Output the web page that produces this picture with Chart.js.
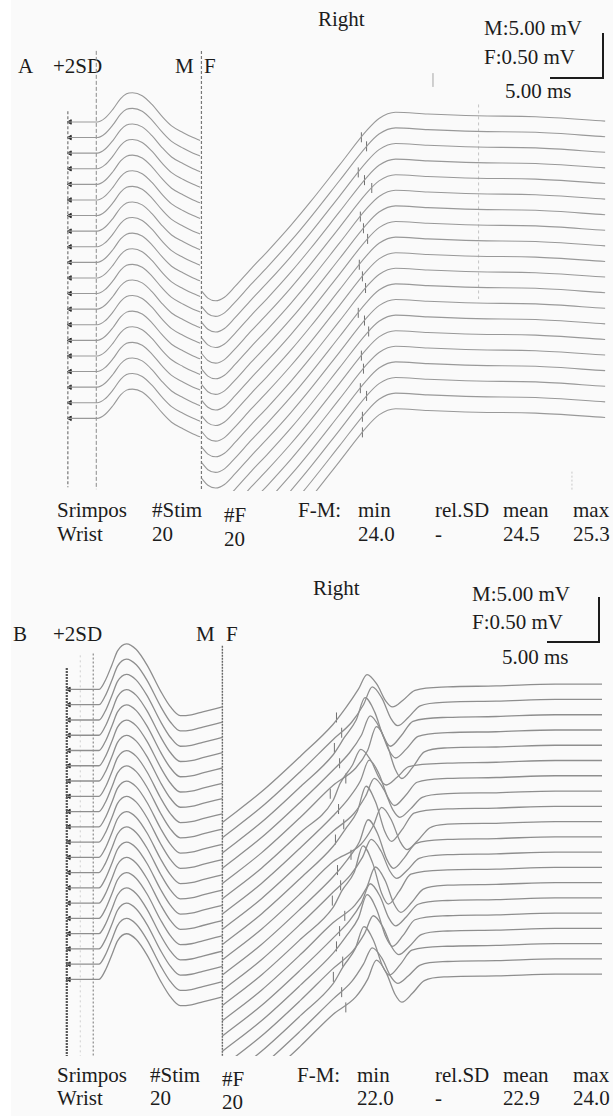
<!DOCTYPE html>
<html>
<head>
<meta charset="utf-8">
<script src="https://cdn.jsdelivr.net/npm/chart.js@4.4.1/dist/chart.umd.min.js"></script>
<style>
  html, body { margin: 0; padding: 0; background: #fafafa; }
  body { width: 613px; height: 1116px; position: relative; overflow: hidden; }
  .faixa { position: absolute; left: 0; top: 0; width: 11px; height: 1116px; background: #fff; }
  .t { position: absolute; font-family: "Liberation Serif", serif; font-size: 21px; line-height: 21px; color: #1c1c1c; white-space: nowrap; }
  .barra { position: absolute; background: #1c1c1c; }
  .painel { position: absolute; }
</style>
</head>
<body>
<div class="faixa"></div>

<!-- painel A -->
<div class="t" style="left:318px;top:9.4px">Right</div>
<div class="t" style="left:18px;top:56.4px">A</div>
<div class="t" style="left:53px;top:56.4px">+2SD</div>
<div class="t" style="left:175px;top:56.4px">M</div>
<div class="t" style="left:204px;top:56.4px">F</div>
<div class="t" style="left:484px;top:18.4px">M:5.00 mV</div>
<div class="t" style="left:484px;top:47.4px">F:0.50 mV</div>
<div class="t" style="left:505px;top:81.4px">5.00 ms</div>
<div class="barra" style="left:602px;top:33px;width:1.5px;height:45px"></div>
<div class="barra" style="left:550px;top:77px;width:54px;height:1.5px"></div>
<div class="painel" style="left:55px;top:40px;width:558px;height:457px"><canvas id="graficoA"></canvas></div>
<div class="t" style="left:57px;top:500.4px">Srimpos</div>
<div class="t" style="left:57px;top:524.4px">Wrist</div>
<div class="t" style="left:152px;top:500.4px">#Stim</div>
<div class="t" style="left:152px;top:524.4px" id="stimA"></div>
<div class="t" style="left:224px;top:505.4px">#F</div>
<div class="t" style="left:224px;top:529.4px" id="nfA"></div>
<div class="t" style="left:298px;top:500.4px">F-M:</div>
<div class="t" style="left:358px;top:500.4px">min</div>
<div class="t" style="left:358px;top:524.4px" id="minA"></div>
<div class="t" style="left:435px;top:500.4px">rel.SD</div>
<div class="t" style="left:435px;top:524.4px">-</div>
<div class="t" style="left:503px;top:500.4px">mean</div>
<div class="t" style="left:503px;top:524.4px" id="meanA"></div>
<div class="t" style="left:573px;top:500.4px">max</div>
<div class="t" style="left:573px;top:524.4px" id="maxA"></div>

<!-- painel B -->
<div class="t" style="left:313px;top:578.4px">Right</div>
<div class="t" style="left:13px;top:624.4px">B</div>
<div class="t" style="left:53px;top:624.4px">+2SD</div>
<div class="t" style="left:196px;top:624.4px">M</div>
<div class="t" style="left:226px;top:624.4px">F</div>
<div class="t" style="left:472px;top:584.4px">M:5.00 mV</div>
<div class="t" style="left:472px;top:612.4px">F:0.50 mV</div>
<div class="t" style="left:502px;top:647.4px">5.00 ms</div>
<div class="barra" style="left:598px;top:597px;width:1.5px;height:45px"></div>
<div class="barra" style="left:547px;top:641px;width:53px;height:1.5px"></div>
<div class="painel" style="left:50px;top:630px;width:563px;height:432px"><canvas id="graficoB"></canvas></div>
<div class="t" style="left:57px;top:1065.4px">Srimpos</div>
<div class="t" style="left:57px;top:1088.4px">Wrist</div>
<div class="t" style="left:150px;top:1065.4px">#Stim</div>
<div class="t" style="left:150px;top:1088.4px" id="stimB"></div>
<div class="t" style="left:222px;top:1069.4px">#F</div>
<div class="t" style="left:222px;top:1092.4px" id="nfB"></div>
<div class="t" style="left:297px;top:1065.4px">F-M:</div>
<div class="t" style="left:357px;top:1065.4px">min</div>
<div class="t" style="left:357px;top:1088.4px" id="minB"></div>
<div class="t" style="left:435px;top:1065.4px">rel.SD</div>
<div class="t" style="left:435px;top:1088.4px">-</div>
<div class="t" style="left:503px;top:1065.4px">mean</div>
<div class="t" style="left:503px;top:1088.4px" id="meanB"></div>
<div class="t" style="left:573px;top:1065.4px">max</div>
<div class="t" style="left:573px;top:1088.4px" id="maxB"></div>

<script>
// contagens
const nEstimulos = 20;
const nRespostasF = 20;

// painel A - resposta M (ms, mV na escala M)
const tempoMA = [0, 2.83, 3.58, 4.34, 5.09, 5.66, 6.23, 7.17, 8.11, 9.06, 10.0, 11.13, 12.08, 12.74];
const ondaMA = [0, 0, 0.44, 1.44, 2.67, 3.22, 3.33, 3.0, 2.0, 0.67, -0.44, -1.22, -1.78, -2.11];
// painel A - trecho F (ms, mV na escala F)
const tempoFA = [12.9, 13.5, 14.25, 15.1, 16.1, 17.7, 19.3, 21.5, 23.4, 26.2, 28.8, 30.0, 31.6, 34.7, 39.4, 45.1, 51.8];
const ondaFA = [-1.93, -2.01, -2.04, -2.0, -1.88, -1.67, -1.47, -1.18, -0.91, -0.49, -0.10, 0.04, 0.11, 0.09, 0.07, 0.06, 0.01];
// latencias F-M por traço (ms)
const latenciaA = [24.3, 24.8, 24.0, 24.6, 25.3, 24.2, 24.5, 24.9, 24.1, 24.4, 24.7, 24.0, 24.6, 25.0, 24.3, 24.5, 24.2, 24.8, 24.4, 24.4];

// painel B - resposta M
const tempoMB = [0, 3.1, 3.7, 4.34, 4.91, 5.75, 6.7, 7.74, 9.06, 10.0, 10.94, 12.0, 13.11, 15.0];
const ondaMB = [0, 0, 1.0, 2.78, 4.44, 5.22, 4.56, 2.78, -0.22, -2.0, -3.0, -2.9, -2.56, -2.0];
// painel B - trecho F
const tempoFB = [15.0, 18.77, 22.55, 25.66, 27.26, 28.4, 29.25, 30.19, 31.04, 31.7, 32.74, 33.87, 36.7, 41.4, 47.08, 51.6];
const ondaFB = [-1.52, -1.17, -0.76, -0.40, -0.20, 0.0, 0.17, 0.06, -0.13, -0.20, -0.12, -0.01, 0.03, 0.04, 0.06, 0.06];
const latenciaB = [22.6, 23.1, 22.4, 22.9, 23.5, 22.0, 22.8, 23.3, 22.5, 24.0, 22.7, 23.0, 22.2, 23.4, 22.9, 22.6, 23.2, 22.3, 23.1, 23.5];
const amplitudeFB = [1.0, 1.2, 1.5, 1.3, 1.6, 1.1, 1.4, 1.2, 1.7, 1.3, 1.5, 1.2, 1.8, 1.4, 1.3, 1.6, 1.2, 1.5, 1.1, 1.3];

const ganhoF = 5.00 / 0.50;

function valorEm(tempos, valores, t) {
  for (let i = 1; i < tempos.length; i++) {
    if (t <= tempos[i]) {
      const r = (t - tempos[i - 1]) / (tempos[i] - tempos[i - 1]);
      return valores[i - 1] + r * (valores[i] - valores[i - 1]);
    }
  }
  return valores[valores.length - 1];
}

function linhaVertical(t, topo, fim, cor, largura, traco) {
  return {
    data: [{ x: t, y: topo }, { x: t, y: fim }],
    borderColor: cor, borderWidth: largura, borderDash: traco, pointRadius: 0
  };
}

function criarPainel(elementId, p) {
  const datasets = [];
  const media = p.latencia.reduce((a, b) => a + b, 0) / p.latencia.length;
  const artefatos = [];
  const marcas = [];

  for (let k = 0; k < nEstimulos; k++) {
    const base = -k * p.espacamento;
    datasets.push({
      data: p.tempoM.map((t, i) => ({ x: t, y: base + p.ondaM[i] })),
      borderColor: p.cor, borderWidth: p.largura, pointRadius: 0,
      cubicInterpolationMode: 'monotone'
    });
    const desloc = p.ondaDesloca ? p.latencia[k] - media : 0;
    datasets.push({
      data: p.tempoF.map((t, i) => {
        let tt = t, v = p.ondaF[i];
        if (p.ondaDesloca && i >= p.ondaDesloca[0] && i <= p.ondaDesloca[1]) {
          tt = t + desloc;
          if (i >= p.ondaDesloca[2]) v = v * p.amplitude[k];
        }
        return { x: tt, y: base + v * ganhoF };
      }),
      borderColor: p.cor, borderWidth: p.largura, pointRadius: 0,
      cubicInterpolationMode: 'monotone'
    });
    artefatos.push({ x: 0.2, y: base });
    const tm = p.refLatencia + p.latencia[k];
    marcas.push({ x: tm, y: base + valorEm(p.tempoF, p.ondaF, tm - desloc) * ganhoF });
  }

  p.cursores.forEach(c => datasets.push(linhaVertical(c[0], c[1], c[2], c[3], c[4], c[5])));

  datasets.push({
    data: artefatos, showLine: false, pointStyle: 'triangle', rotation: -90,
    pointRadius: 2.6, pointBackgroundColor: '#2e2e2e', pointBorderColor: '#2e2e2e'
  });
  datasets.push({
    data: marcas, showLine: false, pointStyle: 'line', rotation: 90,
    pointRadius: 5, pointBorderColor: '#707070', pointBorderWidth: 1
  });

  return new Chart(document.getElementById(elementId), {
    type: 'line',
    data: { datasets: datasets },
    options: {
      responsive: true,
      maintainAspectRatio: false,
      animation: false,
      layout: { padding: 0 },
      plugins: { legend: { display: false }, tooltip: { enabled: false } },
      scales: {
        x: { type: 'linear', display: false, min: p.xMin, max: p.xMax },
        y: { type: 'linear', display: false, min: p.yMin, max: p.yMax }
      }
    }
  });
}

function resumo(lat) {
  const media = lat.reduce((a, b) => a + b, 0) / lat.length;
  return { min: Math.min(...lat).toFixed(1), mean: media.toFixed(1), max: Math.max(...lat).toFixed(1) };
}

criarPainel('graficoA', {
  tempoM: tempoMA, ondaM: ondaMA, tempoF: tempoFA, ondaF: ondaFA,
  latencia: latenciaA, refLatencia: 4.0, ondaDesloca: null,
  espacamento: 1.78, largura: 1.1, cor: '#999999',
  xMin: -0.66, xMax: 51.98, yMin: -42.11, yMax: 8.667,
  cursores: [
    [0, 1.22, -41.67, '#777', 1.2, [3, 2]],
    [2.74, 8.11, -41.9, '#8a8a8a', 1, [4, 2]],
    [12.88, 8.11, -42.11, '#777', 1.2, [3, 2]],
    [39.6, 2.0, -20.2, '#c4c4c4', 1, [3, 3]],
    [35.2, 5.56, 4.0, '#c8c8c8', 1, []],
    [48.6, -39.9, -42.11, '#c8c8c8', 1, [2, 2]]
  ]
});

criarPainel('graficoB', {
  tempoM: tempoMB, ondaM: ondaMB, tempoF: tempoFB, ondaF: ondaFB,
  latencia: latenciaB, refLatencia: 3.4, ondaDesloca: [4, 11, 6], amplitude: amplitudeFB,
  espacamento: 1.744, largura: 1.3, cor: '#8e8e8e',
  xMin: -1.04, xMax: 52.08, yMin: -41.89, yMax: 6.11,
  cursores: [
    [0, 2.44, -41.89, '#555', 2.2, [2, 1]],
    [1.3, 3.9, -41.89, '#cfcfcf', 1, [2, 3]],
    [2.55, 4.1, -41.89, '#8a8a8a', 1.2, [2, 2]],
    [15.0, 5.0, -41.89, '#666', 1.4, [2, 1]]
  ]
});

const rA = resumo(latenciaA), rB = resumo(latenciaB);
document.getElementById('stimA').textContent = nEstimulos;
document.getElementById('nfA').textContent = nRespostasF;
document.getElementById('minA').textContent = rA.min;
document.getElementById('meanA').textContent = rA.mean;
document.getElementById('maxA').textContent = rA.max;
document.getElementById('stimB').textContent = nEstimulos;
document.getElementById('nfB').textContent = nRespostasF;
document.getElementById('minB').textContent = rB.min;
document.getElementById('meanB').textContent = rB.mean;
document.getElementById('maxB').textContent = rB.max;
</script>
</body>
</html>
